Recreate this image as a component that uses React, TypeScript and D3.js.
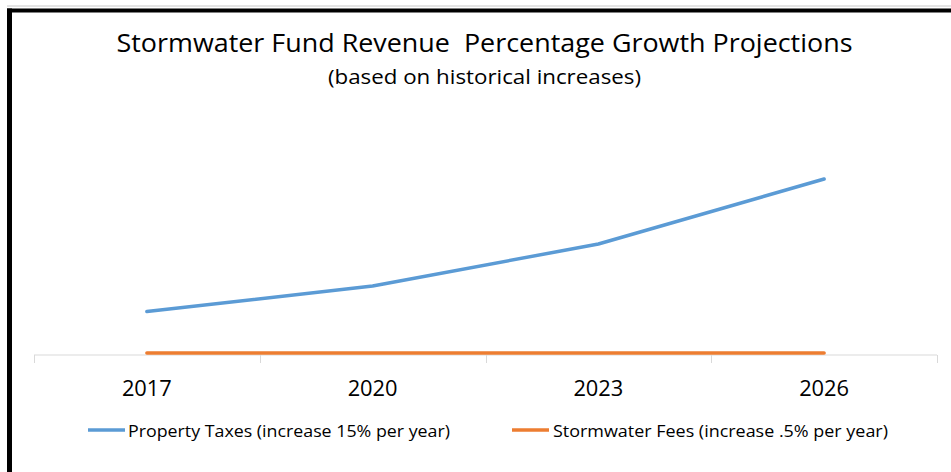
import { useRef, useEffect } from "react";
import * as d3 from "d3";

const years = ["2017", "2020", "2023", "2026"];
const propertyTaxes = [43.5, 69, 111, 176];
const stormwaterFees = [2, 2, 2, 2.1];
const seriesNames = [
  "Property Taxes (increase 15% per year)",
  "Stormwater Fees (increase .5% per year)",
];
const seriesColors = ["#5b9bd5", "#ed7d31"];

const chartTitle = "Stormwater Fund Revenue  Percentage Growth Projections";
const chartSubtitle = "(based on historical increases)";

export default function App() {
  const svgRef = useRef<SVGSVGElement | null>(null);

  useEffect(() => {
    const width = 951;
    const height = 472;
    const svg = d3.select(svgRef.current);
    svg.selectAll("*").remove();
    svg.attr("width", width).attr("height", height);

    const font = "'Open Sans', 'Liberation Sans', sans-serif";

    svg.append("rect").attr("width", width).attr("height", height).attr("fill", "#fff");

    // frame
    svg.append("line")
      .attr("x1", 7).attr("x2", width).attr("y1", 6).attr("y2", 6)
      .attr("stroke", "#c8c8c8").attr("stroke-width", 1);
    svg.append("line")
      .attr("x1", 7).attr("x2", width).attr("y1", 10.5).attr("y2", 10.5)
      .attr("stroke", "#000").attr("stroke-width", 4);
    svg.append("line")
      .attr("x1", 9.5).attr("x2", 9.5).attr("y1", 8.5).attr("y2", height)
      .attr("stroke", "#000").attr("stroke-width", 5);

    const x = d3.scaleBand().domain(years).range([34, 937]);
    const y = d3.scaleLinear().domain([0, 250]).range([355, 105]);
    const cx = (d: string) => x(d)! + x.bandwidth() / 2;

    // axis line + ticks
    const axis = svg.append("g").attr("stroke", "#d9d9d9").attr("stroke-width", 1);
    axis.append("line")
      .attr("x1", 34).attr("x2", 937).attr("y1", y(0)).attr("y2", y(0));
    const tickPos = years.map((d) => x(d)!).concat([937]);
    axis.selectAll("line.tick")
      .data(tickPos)
      .enter()
      .append("line")
      .attr("class", "tick")
      .attr("x1", (d) => Math.round(d) + 0.5)
      .attr("x2", (d) => Math.round(d) + 0.5)
      .attr("y1", y(0))
      .attr("y2", y(0) + 8);

    svg.append("g")
      .selectAll("text")
      .data(years)
      .enter()
      .append("text")
      .attr("x", (d) => cx(d))
      .attr("y", 396)
      .attr("text-anchor", "middle")
      .attr("font-family", font)
      .attr("font-size", 22)
      .attr("fill", "#000")
      .attr("textLength", 50)
      .attr("lengthAdjust", "spacingAndGlyphs")
      .text((d) => d);

    const line = d3
      .line<number>()
      .x((_, i) => cx(years[i]))
      .y((d) => y(d));

    [stormwaterFees, propertyTaxes].forEach((vals, k) => {
      svg.append("path")
        .datum(vals)
        .attr("fill", "none")
        .attr("stroke", seriesColors[k === 0 ? 1 : 0])
        .attr("stroke-width", 3.5)
        .attr("stroke-linecap", "round")
        .attr("stroke-linejoin", "round")
        .attr("d", line);
    });

    // titles
    svg.append("text")
      .attr("x", 484.5)
      .attr("y", 52)
      .attr("text-anchor", "middle")
      .attr("font-family", font)
      .attr("font-size", 25)
      .attr("textLength", 736)
      .attr("lengthAdjust", "spacingAndGlyphs")
      .attr("fill", "#000")
      .style("white-space", "pre")
      .text(chartTitle);
    svg.append("text")
      .attr("x", 484.5)
      .attr("y", 84)
      .attr("text-anchor", "middle")
      .attr("font-family", font)
      .attr("font-size", 20)
      .attr("textLength", 313)
      .attr("lengthAdjust", "spacingAndGlyphs")
      .attr("fill", "#000")
      .text(chartSubtitle);

    // legend
    const legend = [
      { x0: 88, tx: 128, w: 322 },
      { x0: 512, tx: 553, w: 335 },
    ];
    legend.forEach((l, i) => {
      svg.append("line")
        .attr("x1", l.x0).attr("x2", l.x0 + 37)
        .attr("y1", 430).attr("y2", 430)
        .attr("stroke", seriesColors[i])
        .attr("stroke-width", 3.5);
      svg.append("text")
        .attr("x", l.tx)
        .attr("y", 437)
        .attr("font-family", font)
        .attr("font-size", 17)
        .attr("textLength", l.w)
        .attr("lengthAdjust", "spacingAndGlyphs")
        .attr("fill", "#000")
        .text(seriesNames[i]);
    });
  }, []);

  return (
    <div style={{ position: "fixed", top: 0, left: 0, width: 951, height: 472 }}>
      <svg ref={svgRef} style={{ display: "block" }} />
    </div>
  );
}
